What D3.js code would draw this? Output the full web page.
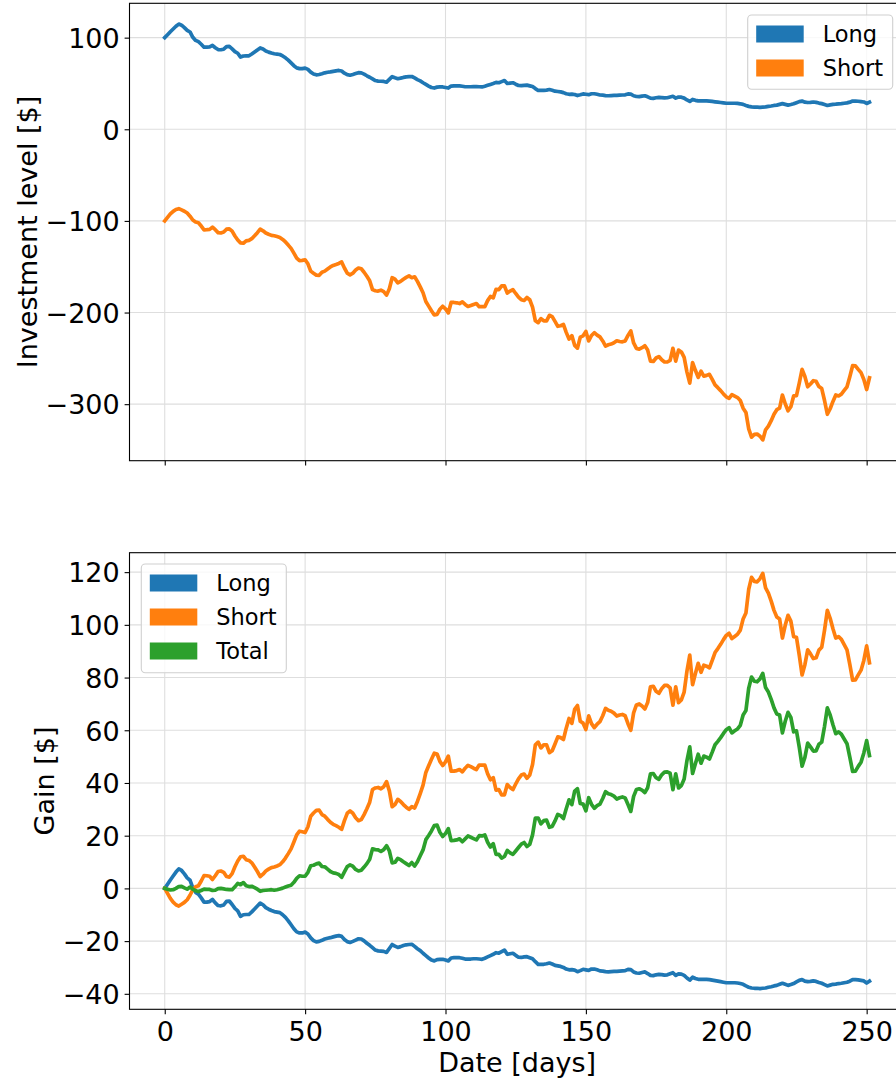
<!DOCTYPE html>
<html>
<head>
<meta charset="utf-8">
<script src="https://cdn.jsdelivr.net/npm/d3@7/dist/d3.min.js"></script>
<style>
  html, body { margin: 0; padding: 0; background: #fff; }
  svg { display: block; font-family: "DejaVu Sans", sans-serif; }
</style>
</head>
<body>
<svg id="chart" width="896" height="1081"></svg>
<script>
// Daily investment levels ($) of the long and short legs, days 0..251
const longLevel = [
100,103.2,106.4,109.4,112.4,114.8,113.6,111.0,108.0,106.2,100.4,97.0,95.6,92.8,89.6,89.6,90.0,91.6,89.0,87.0,
86.8,87.4,90.2,90.4,87.8,84.8,83.0,78.8,80.0,80.2,80.2,82.2,84.4,86.6,88.8,87.6,85.4,84.2,83.2,82.4,
82.0,81.6,80.0,78.0,75.4,72.4,69.4,67.0,66.2,66.2,66.8,65.4,62.4,60.4,59.4,59.8,60.6,61.6,62.2,62.6,
63.2,63.8,64.2,63.6,61.2,59.6,59.0,59.8,60.8,61.8,61.6,60.2,58.4,56.8,55.0,53.2,52.6,52.4,52.2,51.4,
54.4,57.4,56.2,55.2,55.8,56.6,57.2,57.4,57.6,56.0,54.2,52.8,50.8,49.0,47.2,45.6,45.0,46.0,46.2,46.2,
45.6,45.0,47.2,47.4,47.4,47.4,47.0,46.4,46.4,46.4,46.6,46.6,46.4,46.2,47.0,48.0,49.0,50.0,51.2,50.8,
52.0,53.2,50.0,50.4,50.8,49.2,47.8,47.6,48.0,48.2,47.4,46.6,44.4,42.4,42.4,42.4,42.8,43.4,42.6,41.6,
41.2,40.8,40.0,38.8,38.2,38.4,38.0,36.8,37.6,38.6,38.2,37.8,38.8,38.8,38.2,37.4,37.2,36.8,36.6,36.8,
37.0,37.0,37.2,37.4,37.6,38.6,38.4,36.6,35.8,35.6,36.2,36.6,35.4,34.0,33.8,34.4,34.8,34.6,34.2,34.4,
35.2,36.0,34.0,35.2,35.0,34.0,32.0,30.4,32.6,31.6,31.0,31.0,31.0,31.0,30.8,30.4,30.0,29.6,29.2,28.8,
28.4,28.4,28.4,28.4,28.2,27.8,27.2,26.0,25.0,24.4,24.2,24.2,24.0,24.2,24.4,25.0,25.4,26.0,26.4,27.2,
28.0,27.2,26.4,27.0,27.8,29.0,30.2,30.8,29.6,29.2,29.4,29.8,29.4,28.6,28.0,27.0,26.0,26.6,27.2,27.4,
27.8,28.0,28.4,28.8,29.6,30.8,30.8,30.6,30.2,29.8,28.2,29.6
];
const shortLevel = [
-100,-96.2,-92.4,-89.6,-87.6,-86.6,-88.0,-89.4,-91.4,-94.8,-99.0,-101.2,-102.0,-105.6,-109.8,-109.6,-109.2,-106.8,-109.6,-112.8,
-113.2,-112.2,-109.0,-108.6,-111.2,-116.4,-120.8,-124.0,-124.4,-121.8,-121.2,-119.4,-116.2,-112.8,-109.0,-110.8,-113.2,-114.6,-115.8,-116.2,
-117.0,-118.0,-120.2,-123.0,-126.4,-130.0,-135.2,-140.6,-143.4,-143.0,-142.4,-146.8,-154.8,-157.2,-159.2,-159.4,-156.0,-154.8,-152.4,-150.2,
-148.6,-147.6,-146.4,-144.8,-151.4,-157.0,-158.8,-157.0,-153.6,-151.4,-152.2,-156.0,-160.4,-165.4,-175.0,-176.2,-176.6,-175.6,-177.2,-181.0,
-174.0,-162.0,-163.6,-167.6,-166.0,-163.6,-161.6,-160.0,-162.0,-161.0,-166.0,-172.0,-178.4,-188.0,-193.0,-198.0,-202.6,-202.0,-196.4,-193.2,
-196.0,-200.4,-189.0,-189.0,-189.4,-190.2,-188.4,-191.2,-193.4,-192.4,-191.2,-190.2,-193.6,-193.6,-193.6,-187.0,-182.4,-184.0,-174.6,-175.0,
-171.0,-171.0,-178.8,-176.6,-175.0,-179.2,-183.2,-186.0,-186.8,-183.6,-186.0,-194.0,-209.0,-211.0,-206.6,-209.0,-209.0,-203.0,-204.4,-209.6,
-215.0,-214.4,-213.0,-221.6,-229.0,-225.2,-235.8,-238.8,-226.8,-225.4,-220.6,-231.0,-225.0,-222.0,-224.6,-226.6,-231.0,-236.6,-235.2,-234.4,
-233.0,-230.8,-231.6,-232.0,-231.0,-225.0,-220.0,-233.2,-239.2,-240.0,-238.4,-236.2,-241.0,-253.0,-253.4,-249.6,-248.0,-251.6,-254.0,-254.0,
-252.2,-239.0,-253.0,-241.0,-243.0,-249.0,-265.0,-277.0,-254.6,-263.0,-270.8,-264.0,-269.4,-268.6,-267.4,-273.0,-279.0,-282.0,-285.2,-288.8,
-292.0,-293.6,-289.6,-291.2,-292.8,-296.0,-304.4,-309.0,-327.0,-336.0,-333.0,-332.6,-335.0,-339.0,-328.0,-324.0,-318.0,-311.0,-306.0,-304.4,
-290.0,-299.6,-307.2,-302.8,-291.0,-290.6,-277.0,-262.0,-269.8,-281.0,-278.0,-274.4,-275.0,-280.8,-283.0,-296.0,-311.0,-305.0,-297.0,-290.0,
-291.0,-289.0,-285.0,-281.0,-270.0,-258.0,-258.2,-262.0,-265.6,-273.0,-284.0,-271.2
];
// Daily gains ($) of each leg and of the whole position
const longGain = [
0,1.6,3.2,4.7,6.2,7.4,6.8,5.5,4.0,3.1,0.2,-1.5,-2.2,-3.6,-5.2,-5.2,-5.0,-4.2,-5.5,-6.5,
-6.6,-6.3,-4.9,-4.8,-6.1,-7.6,-8.5,-10.6,-10.0,-9.9,-9.9,-8.9,-7.8,-6.7,-5.6,-6.2,-7.3,-7.9,-8.4,-8.8,
-9.0,-9.2,-10.0,-11.0,-12.3,-13.8,-15.3,-16.5,-16.9,-16.9,-16.6,-17.3,-18.8,-19.8,-20.3,-20.1,-19.7,-19.2,-18.9,-18.7,
-18.4,-18.1,-17.9,-18.2,-19.4,-20.2,-20.5,-20.1,-19.6,-19.1,-19.2,-19.9,-20.8,-21.6,-22.5,-23.4,-23.7,-23.8,-23.9,-24.3,
-22.8,-21.3,-21.9,-22.4,-22.1,-21.7,-21.4,-21.3,-21.2,-22.0,-22.9,-23.6,-24.6,-25.5,-26.4,-27.2,-27.5,-27.0,-26.9,-26.9,
-27.2,-27.5,-26.4,-26.3,-26.3,-26.3,-26.5,-26.8,-26.8,-26.8,-26.7,-26.7,-26.8,-26.9,-26.5,-26.0,-25.5,-25.0,-24.4,-24.6,
-24.0,-23.4,-25.0,-24.8,-24.6,-25.4,-26.1,-26.2,-26.0,-25.9,-26.3,-26.7,-27.8,-28.8,-28.8,-28.8,-28.6,-28.3,-28.7,-29.2,
-29.4,-29.6,-30.0,-30.6,-30.9,-30.8,-31.0,-31.6,-31.2,-30.7,-30.9,-31.1,-30.6,-30.6,-30.9,-31.3,-31.4,-31.6,-31.7,-31.6,
-31.5,-31.5,-31.4,-31.3,-31.2,-30.7,-30.8,-31.7,-32.1,-32.2,-31.9,-31.7,-32.3,-33.0,-33.1,-32.8,-32.6,-32.7,-32.9,-32.8,
-32.4,-32.0,-33.0,-32.4,-32.5,-33.0,-34.0,-34.8,-33.7,-34.2,-34.5,-34.5,-34.5,-34.5,-34.6,-34.8,-35.0,-35.2,-35.4,-35.6,
-35.8,-35.8,-35.8,-35.8,-35.9,-36.1,-36.4,-37.0,-37.5,-37.8,-37.9,-37.9,-38.0,-37.9,-37.8,-37.5,-37.3,-37.0,-36.8,-36.4,
-36.0,-36.4,-36.8,-36.5,-36.1,-35.5,-34.9,-34.6,-35.2,-35.4,-35.3,-35.1,-35.3,-35.7,-36.0,-36.5,-37.0,-36.7,-36.4,-36.3,
-36.1,-36.0,-35.8,-35.6,-35.2,-34.6,-34.6,-34.7,-34.9,-35.1,-35.9,-35.2
];
const shortGain = [
0,-1.9,-3.8,-5.2,-6.2,-6.7,-6.0,-5.3,-4.3,-2.6,-0.5,0.6,1.0,2.8,4.9,4.8,4.6,3.4,4.8,6.4,
6.6,6.1,4.5,4.3,5.6,8.2,10.4,12.0,12.2,10.9,10.6,9.7,8.1,6.4,4.5,5.4,6.6,7.3,7.9,8.1,
8.5,9.0,10.1,11.5,13.2,15.0,17.6,20.3,21.7,21.5,21.2,23.4,27.4,28.6,29.6,29.7,28.0,27.4,26.2,25.1,
24.3,23.8,23.2,22.4,25.7,28.5,29.4,28.5,26.8,25.7,26.1,28.0,30.2,32.7,37.5,38.1,38.3,37.8,38.6,40.5,
37.0,31.0,31.8,33.8,33.0,31.8,30.8,30.0,31.0,30.5,33.0,36.0,39.2,44.0,46.5,49.0,51.3,51.0,48.2,46.6,
48.0,50.2,44.5,44.5,44.7,45.1,44.2,45.6,46.7,46.2,45.6,45.1,46.8,46.8,46.8,43.5,41.2,42.0,37.3,37.5,
35.5,35.5,39.4,38.3,37.5,39.6,41.6,43.0,43.4,41.8,43.0,47.0,54.5,55.5,53.3,54.5,54.5,51.5,52.2,54.8,
57.5,57.2,56.5,60.8,64.5,62.6,67.9,69.4,63.4,62.7,60.3,65.5,62.5,61.0,62.3,63.3,65.5,68.3,67.6,67.2,
66.5,65.4,65.8,66.0,65.5,62.5,60.0,66.6,69.6,70.0,69.2,68.1,70.5,76.5,76.7,74.8,74.0,75.8,77.0,77.0,
76.1,69.5,76.5,70.5,71.5,74.5,82.5,88.5,77.3,81.5,85.4,82.0,84.7,84.3,83.7,86.5,89.5,91.0,92.6,94.4,
96.0,96.8,94.8,95.6,96.4,98.0,102.2,104.5,113.5,118.0,116.5,116.3,117.5,119.5,114.0,112.0,109.0,105.5,103.0,102.2,
95.0,99.8,103.6,101.4,95.5,95.3,88.5,81.0,84.9,90.5,89.0,87.2,87.5,90.4,91.5,98.0,105.5,102.5,98.5,95.0,
95.5,94.5,92.5,90.5,85.0,79.0,79.1,81.0,82.8,86.5,92.0,85.6
];
const totalGain = [
0,-0.3,-0.6,-0.5,0,0.7,0.8,0.2,-0.3,0.5,-0.3,-0.9,-1.2,-0.8,-0.3,-0.4,-0.4,-0.8,-0.7,-0.1,
0,-0.2,-0.4,-0.5,-0.5,0.6,1.9,1.4,2.2,1.0,0.7,0.8,0.3,-0.3,-1.1,-0.8,-0.7,-0.6,-0.5,-0.7,
-0.5,-0.2,0.1,0.5,0.9,1.2,2.3,3.8,4.8,4.6,4.6,6.1,8.6,8.8,9.3,9.6,8.3,8.2,7.3,6.4,
5.9,5.7,5.3,4.2,6.3,8.3,8.9,8.4,7.2,6.6,6.9,8.1,9.4,11.1,15.0,14.7,14.6,14.0,14.7,16.2,
14.2,9.7,9.9,11.4,10.9,10.1,9.4,8.7,9.8,8.5,10.1,12.4,14.6,18.5,20.1,21.8,23.8,24.0,21.3,19.7,
20.8,22.7,18.1,18.2,18.4,18.8,17.7,18.8,19.9,19.4,18.9,18.4,20.0,19.9,20.3,17.5,15.7,17.0,12.9,12.9,
11.5,12.1,14.4,13.5,12.9,14.2,15.5,16.8,17.4,15.9,16.7,20.3,26.7,26.7,24.5,25.7,25.9,23.2,23.5,25.6,
28.1,27.6,26.5,30.2,33.6,31.8,36.9,37.8,32.2,32.0,29.4,34.4,31.9,30.4,31.4,32.0,34.1,36.7,35.9,35.6,
35.0,33.9,34.4,34.7,34.3,31.8,29.2,34.9,37.5,37.8,37.3,36.4,38.2,43.5,43.6,42.0,41.4,43.1,44.1,44.2,
43.7,37.5,43.5,38.1,39.0,41.5,48.5,53.7,43.6,47.3,50.9,47.5,50.2,49.8,49.1,51.7,54.5,55.8,57.2,58.8,
60.2,61.0,59.0,59.8,60.5,61.9,65.8,67.5,76.0,80.2,78.6,78.4,79.5,81.6,76.2,74.5,71.7,68.5,66.2,65.8,
59.0,63.4,66.8,64.9,59.4,59.8,53.6,46.4,49.7,55.1,53.7,52.1,52.2,54.7,55.5,61.5,68.5,65.8,62.1,58.7,
59.4,58.5,56.7,54.9,49.8,44.4,44.5,46.3,47.9,51.4,56.1,50.4
];

const days = d3.range(longLevel.length);

// Tick values for each axis
const dayTicks = [0, 50, 100, 150, 200, 250];
const levelTicks = [-300, -200, -100, 0, 100];
const gainTicks = [-40, -20, 0, 20, 40, 60, 80, 100, 120];

const levelSeries = [
  { name: "Long", values: longLevel, color: "#1f77b4" },
  { name: "Short", values: shortLevel, color: "#ff7f0e" }
];
const gainSeries = [
  { name: "Long", values: longGain, color: "#1f77b4" },
  { name: "Short", values: shortGain, color: "#ff7f0e" },
  { name: "Total", values: totalGain, color: "#2ca02c" }
];

const svg = d3.select("#chart");
const FONT_TICK = 27;
const FONT_LABEL = 27;
const FONT_LEGEND = 22.5;
const TICK_LEN = 4.9, TICK_PAD = 4.9;
const fmt = v => (v < 0 ? "\u2212" + Math.abs(v) : String(v));

// padded extent, 5% on either side
function padded(ext) {
  const m = (ext[1] - ext[0]) * 0.05;
  return [ext[0] - m, ext[1] + m];
}

const plotLeft = 129.5, plotRight = 904.7;
const x = d3.scaleLinear().domain(padded(d3.extent(days))).range([plotLeft, plotRight]);

function drawPanel(opts) {
  const { top, bottom, series, ticks, label, labelX, showXLabels, legend } = opts;
  const allVals = series.flatMap(s => s.values);
  const y = d3.scaleLinear().domain(padded(d3.extent(allVals))).range([bottom, top]);
  const g = svg.append("g");

  const clipId = "clip" + Math.round(top);
  svg.append("clipPath").attr("id", clipId)
    .append("rect").attr("x", plotLeft).attr("y", top)
    .attr("width", plotRight - plotLeft).attr("height", bottom - top);

  // grid
  const grid = g.append("g").attr("clip-path", `url(#${clipId})`);
  grid.selectAll("line.gx").data(dayTicks).join("line")
    .attr("x1", d => x(d)).attr("x2", d => x(d))
    .attr("y1", top).attr("y2", bottom)
    .attr("stroke", "#dedede").attr("stroke-width", 1.1);
  grid.selectAll("line.gy").data(ticks).join("line")
    .attr("x1", plotLeft).attr("x2", plotRight)
    .attr("y1", d => y(d)).attr("y2", d => y(d))
    .attr("stroke", "#dedede").attr("stroke-width", 1.1);

  // lines
  const line = d3.line().x((d, i) => x(days[i])).y(d => y(d));
  g.append("g").attr("clip-path", `url(#${clipId})`)
    .selectAll("path").data(series).join("path")
    .attr("d", s => line(s.values))
    .attr("fill", "none")
    .attr("stroke", s => s.color)
    .attr("stroke-width", 3.7)
    .attr("stroke-linejoin", "round")
    .attr("stroke-linecap", "square");

  // spines
  g.append("rect").attr("x", plotLeft).attr("y", top)
    .attr("width", plotRight - plotLeft).attr("height", bottom - top)
    .attr("fill", "none").attr("stroke", "#000").attr("stroke-width", 1.1);

  // y axis
  const yAxis = d3.axisLeft(y).tickValues(ticks).tickSize(TICK_LEN).tickPadding(TICK_PAD).tickFormat(fmt);
  const ya = g.append("g").attr("transform", `translate(${plotLeft},0)`).call(yAxis);
  ya.select(".domain").remove();
  ya.selectAll(".tick line").attr("stroke", "#000").attr("stroke-width", 1.1);
  ya.selectAll(".tick text").attr("font-size", FONT_TICK).attr("fill", "#000")
    .attr("font-family", "DejaVu Sans").attr("dy", "0.36em");

  // x axis
  const xAxis = d3.axisBottom(x).tickValues(dayTicks).tickSize(TICK_LEN).tickPadding(TICK_PAD)
    .tickFormat(showXLabels ? fmt : () => "");
  const xa = g.append("g").attr("transform", `translate(0,${bottom})`).call(xAxis);
  xa.select(".domain").remove();
  xa.selectAll(".tick line").attr("stroke", "#000").attr("stroke-width", 1.1);
  xa.selectAll(".tick text").attr("font-size", FONT_TICK).attr("fill", "#000")
    .attr("font-family", "DejaVu Sans").attr("dy", "0.8em");

  // y label
  svg.append("text")
    .attr("transform", `translate(${labelX},${(top + bottom) / 2}) rotate(-90)`)
    .attr("text-anchor", "middle").attr("dominant-baseline", "central")
    .attr("font-size", FONT_LABEL).text(label);

  // legend
  const lg = svg.append("g");
  lg.append("rect").attr("x", legend.x).attr("y", legend.y)
    .attr("width", legend.w).attr("height", legend.h).attr("rx", 4)
    .attr("fill", "#fff").attr("fill-opacity", 0.8)
    .attr("stroke", "#d0d0d0").attr("stroke-width", 1.1);
  series.forEach((s, i) => {
    const ry = legend.y + 10.5 + i * 34;
    lg.append("rect").attr("x", legend.x + 8.5).attr("y", ry)
      .attr("width", 47.5).attr("height", 17).attr("fill", s.color);
    lg.append("text").attr("x", legend.x + 75).attr("y", ry + 8.5)
      .attr("dominant-baseline", "central").attr("font-size", FONT_LEGEND)
      .text(s.name);
  });
}

drawPanel({
  top: 3.3, bottom: 460.7, series: levelSeries, ticks: levelTicks,
  label: "Investment level [$]", labelX: 27, showXLabels: false,
  legend: { x: 747.7, y: 15, w: 145, h: 74.3 }
});
drawPanel({
  top: 552.7, bottom: 1009.3, series: gainSeries, ticks: gainTicks,
  label: "Gain [$]", labelX: 44, showXLabels: true,
  legend: { x: 141.3, y: 564, w: 145, h: 108.7 }
});

// x label
svg.append("text").attr("x", (plotLeft + plotRight) / 2).attr("y", 1062)
  .attr("text-anchor", "middle").attr("dominant-baseline", "central")
  .attr("font-size", FONT_LABEL).text("Date [days]");
</script>
</body>
</html>
